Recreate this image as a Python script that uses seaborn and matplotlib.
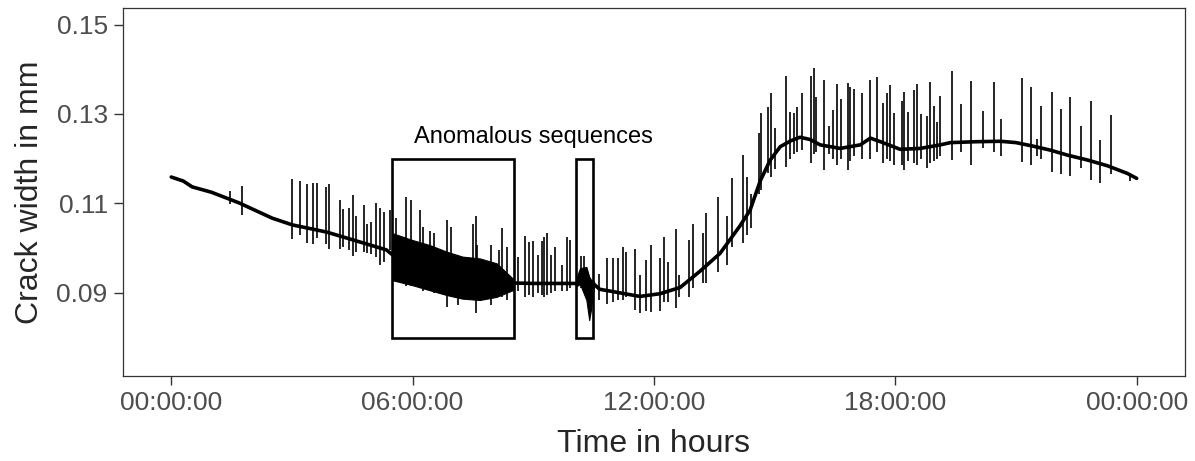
import matplotlib
matplotlib.use("Agg")
import matplotlib.pyplot as plt
from matplotlib.patches import Rectangle
import pandas as pd
import seaborn as sns

# baseline crack width (hours, mm)
base_t = [0.0, 0.3, 0.52, 1.0, 1.69, 2.51, 3.01, 3.86, 4.68, 5.35, 5.5, 6.0, 7.0, 8.0, 8.5,
          9.0, 9.5, 10.0, 10.5, 10.65, 11.15, 11.65, 12.15, 12.65, 13.14, 13.64, 14.14, 14.39,
          14.64, 14.89, 15.14, 15.4, 15.63, 15.88, 16.13, 16.63, 17.13, 17.38, 17.63, 18.12,
          18.62, 19.12, 19.37, 20.0, 20.61, 21.0, 21.43, 21.86, 22.28, 22.78, 23.28, 23.77, 24.0]
base_v = [0.1159, 0.1150, 0.1137, 0.1125, 0.1101, 0.1067, 0.1052, 0.1036, 0.1014, 0.0996, 0.0985,
          0.0965, 0.0940, 0.0930, 0.0922, 0.0921, 0.0921, 0.0921, 0.0920, 0.0908, 0.0900, 0.0892,
          0.0898, 0.0912, 0.0948, 0.0988, 0.1050, 0.1085, 0.1150, 0.1197, 0.1227, 0.1240, 0.1248,
          0.1243, 0.1231, 0.1223, 0.1231, 0.1246, 0.1238, 0.1221, 0.1223, 0.1231, 0.1236, 0.1238,
          0.1239, 0.1236, 0.1228, 0.1219, 0.1208, 0.1197, 0.1184, 0.1167, 0.1156]

# spikes: time, top, bottom
spike_t = [1.47, 1.75, 3.00, 3.19, 3.38, 3.53, 3.62, 3.85, 3.93, 4.19, 4.27, 4.42, 4.51, 4.60,
           4.78, 4.86, 4.96, 5.10, 5.20, 5.28, 5.43,
           5.59, 5.84, 5.97, 6.19, 6.27, 6.44, 6.52, 6.86, 6.96, 7.13, 7.49, 7.57, 7.61, 7.94,
           8.14, 8.21, 8.35,
           8.62, 8.79, 8.89, 8.99, 9.12, 9.22, 9.26, 9.33, 9.45, 9.53, 9.72, 9.83, 9.91, 10.18,
           10.26, 10.63, 10.84, 10.99, 11.11, 11.23, 11.30, 11.54, 11.65, 11.79, 11.92, 12.15,
           12.26, 12.34, 12.55, 12.62, 12.88, 12.98, 13.21, 13.29, 13.60, 13.82, 13.93, 14.21,
           14.31, 14.41, 14.60, 14.66, 14.84, 14.90, 15.01, 15.28, 15.37, 15.49, 15.55, 15.69,
           15.91, 15.98, 16.03, 16.23, 16.34, 16.46, 16.55, 16.65, 16.82, 16.88, 16.98, 17.18,
           17.38, 17.54, 17.69, 17.79, 17.87, 17.97, 18.16, 18.21, 18.31, 18.46, 18.55, 18.65,
           18.79, 18.87, 18.97, 19.04, 19.12, 19.42, 19.64, 19.89, 20.17, 20.45, 20.63, 21.15,
           21.38, 21.51, 21.63, 21.90, 22.11, 22.35, 22.62, 22.87, 23.10, 23.35, 23.83]
spike_hi = [0.1128, 0.1139, 0.1154, 0.1151, 0.1143, 0.1145, 0.1145, 0.1137, 0.1143, 0.1108,
            0.1087, 0.1089, 0.1119, 0.1072, 0.1096, 0.1053, 0.1059, 0.1102, 0.1089, 0.1081, 0.1085,
            0.1067, 0.1115, 0.1108, 0.1085, 0.1048, 0.1038, 0.1034, 0.1063, 0.1048, 0.0985, 0.1054,
            0.1072, 0.1007, 0.1007, 0.0996, 0.1044, 0.1003,
            0.0981, 0.1027, 0.1014, 0.1016, 0.0985, 0.1016, 0.1024, 0.1033, 0.0984, 0.1003, 0.0962,
            0.1024, 0.1019, 0.0982, 0.0982, 0.0943, 0.0977, 0.0979, 0.0977, 0.1003, 0.0992, 0.0999,
            0.0940, 0.0973, 0.1007, 0.0977, 0.1025, 0.0969, 0.1042, 0.0940, 0.1018, 0.1055, 0.1033,
            0.1079, 0.1115, 0.1072, 0.1156, 0.1208, 0.1160, 0.1122, 0.1257, 0.1302, 0.1316, 0.1348,
            0.1268, 0.1385, 0.1305, 0.1302, 0.1315, 0.1346, 0.1384, 0.1402, 0.1339, 0.1375, 0.1273,
            0.1309, 0.1367, 0.1333, 0.1370, 0.1360, 0.1355, 0.1346, 0.1375, 0.1382, 0.1324, 0.1346,
            0.1365, 0.1302, 0.1328, 0.1350, 0.1305, 0.1354, 0.1367, 0.1300, 0.1296, 0.1372, 0.1318,
            0.1282, 0.1340, 0.1396, 0.1322, 0.1374, 0.1307, 0.1372, 0.1288, 0.1380, 0.1361, 0.1243,
            0.1318, 0.1349, 0.1311, 0.1337, 0.1274, 0.1328, 0.1242, 0.1298, 0.1168]
spike_lo = [0.1098, 0.1074, 0.1020, 0.1029, 0.1012, 0.1009, 0.1022, 0.1010, 0.0999, 0.0997,
            0.1003, 0.0996, 0.0982, 0.0992, 0.0992, 0.0988, 0.0987, 0.0981, 0.0962, 0.0969, 0.0996,
            0.0925, 0.0915, 0.0915, 0.0910, 0.0905, 0.0905, 0.0900, 0.0869, 0.0893, 0.0872, 0.0885,
            0.0855, 0.0885, 0.0872, 0.0890, 0.0890, 0.0884,
            0.0905, 0.0891, 0.0895, 0.0890, 0.0900, 0.0895, 0.0890, 0.0895, 0.0900, 0.0905, 0.0905,
            0.0905, 0.0910, 0.0910, 0.0905, 0.0885, 0.0876, 0.0880, 0.0885, 0.0885, 0.0890, 0.0861,
            0.0854, 0.0860, 0.0857, 0.0860, 0.0880, 0.0880, 0.0865, 0.0890, 0.0891, 0.0910, 0.0921,
            0.0921, 0.0947, 0.0962, 0.1003, 0.1012, 0.1030, 0.1044, 0.1120, 0.1130, 0.1167, 0.1160,
            0.1178, 0.1182, 0.1200, 0.1210, 0.1215, 0.1220, 0.1190, 0.1210, 0.1215, 0.1175, 0.1210,
            0.1200, 0.1186, 0.1200, 0.1175, 0.1195, 0.1205, 0.1200, 0.1200, 0.1215, 0.1190, 0.1200,
            0.1195, 0.1185, 0.1185, 0.1175, 0.1195, 0.1190, 0.1185, 0.1200, 0.1180, 0.1190, 0.1195,
            0.1200, 0.1205, 0.1197, 0.1215, 0.1186, 0.1225, 0.1215, 0.1205, 0.1193, 0.1185, 0.1205,
            0.1200, 0.1171, 0.1165, 0.1161, 0.1180, 0.1152, 0.1145, 0.1165, 0.1150]

# dense oscillation envelopes
anom1_t = [5.51, 6.00, 6.42, 6.85, 7.24, 7.67, 8.09, 8.49]
anom1_hi = [0.1033, 0.1018, 0.1007, 0.0992, 0.0981, 0.0977, 0.0966, 0.0932]
anom1_lo = [0.0928, 0.0917, 0.0906, 0.0895, 0.0887, 0.0884, 0.0891, 0.0906]
anom2_t = [10.08, 10.16, 10.32, 10.39, 10.43, 10.51]
anom2_hi = [0.0935, 0.0955, 0.0958, 0.0936, 0.0930, 0.0925]
anom2_lo = [0.0915, 0.0920, 0.0884, 0.0839, 0.0860, 0.0915]

# highlighted boxes
box_t0 = [5.49, 10.06]
box_t1 = [8.51, 10.49]
box_lo = 0.08
box_hi = 0.12

tick_pos = [0, 6, 12, 18, 24]
tick_labels = ['00:00:00', '06:00:00', '12:00:00', '18:00:00', '00:00:00']

sns.set_style("white")
plt.rcParams['font.family'] = ['Liberation Sans', 'DejaVu Sans']

df = pd.DataFrame({'hours': base_t, 'width': base_v})

fig, ax = plt.subplots(figsize=(11.95, 4.61), dpi=100)
fig.subplots_adjust(left=0.1029, right=0.9916, top=0.9816, bottom=0.1844)

ax.fill_between(anom1_t, anom1_lo, anom1_hi, color='black', lw=0.8)
ax.fill_between(anom2_t, anom2_lo, anom2_hi, color='black', lw=0.8)
ax.vlines(spike_t, spike_lo, spike_hi, color='black', lw=1.2)
sns.lineplot(x='hours', y='width', data=df, color='black', lw=2.6, ax=ax)

for t0, t1 in zip(box_t0, box_t1):
    ax.add_patch(Rectangle((t0, box_lo), t1 - t0, box_hi - box_lo,
                           fill=False, edgecolor='black', lw=1.9))

ax.text(9.0, 0.1248, 'Anomalous sequences', ha='center', va='center',
        fontsize=17, color='black')

ax.set_xlim(-1.2, 25.2)
ax.set_ylim(0.0714, 0.1536)
ax.set_xticks(tick_pos)
ax.set_xticklabels(tick_labels)
ax.set_yticks([0.09, 0.11, 0.13, 0.15])
ax.set_yticklabels(['0.09', '0.11', '0.13', '0.15'])
ax.tick_params(axis='both', labelsize=19, labelcolor='#4D4D4D', color='#333333',
               length=6.5, width=1, direction='out', bottom=True, left=True, pad=4.5)
ax.set_xlabel('Time in hours', fontsize=23, labelpad=10)
ax.set_ylabel('Crack width in mm', fontsize=23, labelpad=8)
for s in ax.spines.values():
    s.set_color('#333333')
    s.set_linewidth(0.9)

fig.savefig('out.png', dpi=100)
